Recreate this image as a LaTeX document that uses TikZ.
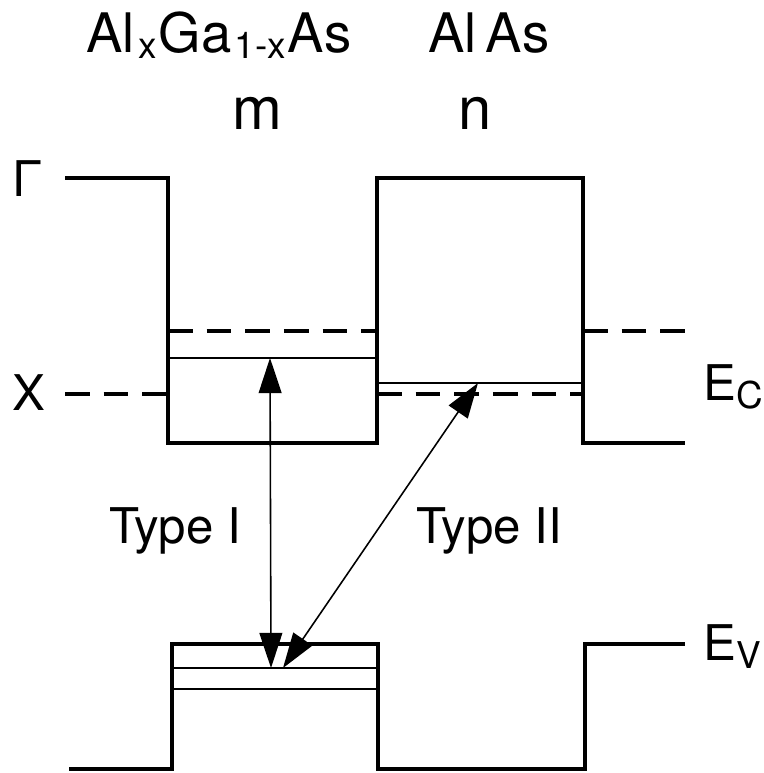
\documentclass[tikz,border=0pt]{standalone}
\usepackage{fontspec}
\setmainfont{TeX Gyre Heros}
\usepackage{tikz}
\usetikzlibrary{arrows.meta}

\newcommand{\lowsub}[2]{\raisebox{-#1}{\fontsize{21}{22}\selectfont #2}}

\begin{document}
\begin{tikzpicture}[
    x=0.02cm, y=-0.02cm,
    band/.style={line width=2.6pt, line join=miter},
    level/.style={line width=1pt},
    xband/.style={line width=2.6pt, dash pattern=on 14pt off 8pt},
    trans/.style={line width=0.9pt, {Triangle[length=20pt,width=13pt]}-{Triangle[length=20pt,width=13pt]}},
    lbl/.style={font=\fontsize{28}{32}\selectfont, inner sep=0pt},
    title/.style={font=\fontsize{31}{36}\selectfont, inner sep=0pt, anchor=base}
]
    \useasboundingbox (0,0) rectangle (763,773);

    % labels
    \node[title] (alga) at (219,53) {Al\hspace{2pt}\lowsub{3pt}{x}\hspace{1pt}Ga\hspace{2pt}\lowsub{3pt}{1-x}\hspace{1pt}As};
    \node[title] (alas) at (489,53) {Al\,As};
    \node[lbl, anchor=base, font=\fontsize{34}{36}\selectfont] (mlab) at (257,130) {m};
    \node[lbl, anchor=base, font=\fontsize{34}{36}\selectfont] (nlab) at (475,130) {n};
    \node[lbl] (gam) at (28,179) {Γ};
    \node[lbl] (xlab) at (29,393) {X};
    \node[lbl, anchor=base west] (ec) at (703,400) {E\lowsub{5pt}{C}};
    \node[lbl, anchor=base west] (ev) at (703,660) {E\lowsub{5pt}{V}};
    \node[lbl, anchor=base] (t1) at (175,543) {Type I};
    \node[lbl, anchor=base] (t2) at (489,543) {Type II};

    % conduction band
    \draw[band] (65,178) -- (168,178) -- (168,443) -- (377,443) -- (377,178)
        -- (583,178) -- (583,443) -- (685,443);
    \draw[xband] (65,394) -- (168,394);
    \draw[xband] (168,331) -- (377,331);
    \draw[xband] (377,394) -- (583,394);
    \draw[xband] (583,331) -- (685,331);
    \draw[level] (168,358) -- (377,358);
    \draw[level] (377,383) -- (583,383);

    % valence band
    \draw[band] (69,769) -- (172,769) -- (172,644) -- (378,644) -- (378,769)
        -- (585,769) -- (585,644) -- (685,644);
    \draw[level] (172,668) -- (378,668);
    \draw[level] (172,689) -- (378,689);

    % transitions
    \coordinate (e1) at (270,358);
    \coordinate (h1) at (271,668);
    \coordinate (e2) at (478,383);
    \coordinate (h2) at (283,668);
    \draw[trans] (e1) -- (h1);
    \draw[trans] (e2) -- (h2);
\end{tikzpicture}
\end{document}
